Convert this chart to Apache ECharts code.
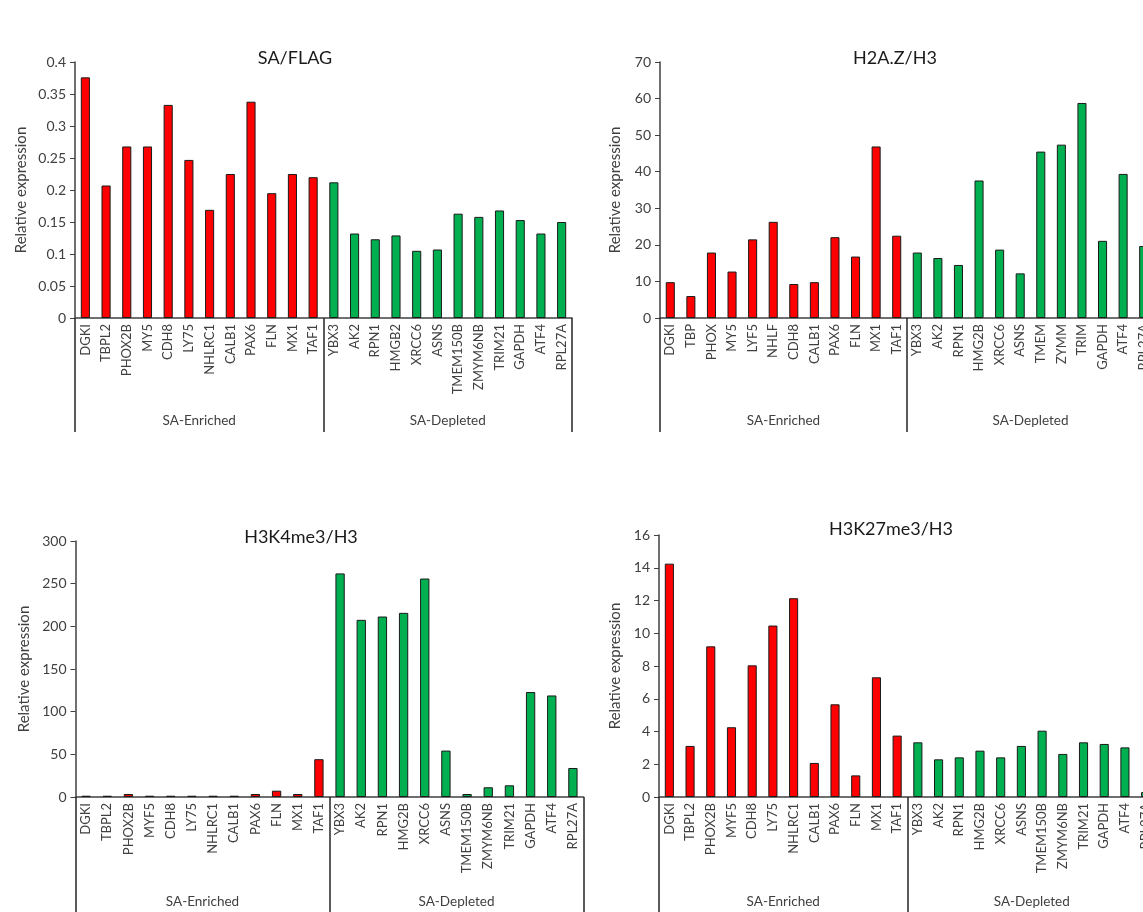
<!DOCTYPE html>
<html>
<head>
<meta charset="utf-8">
<script src="https://cdn.jsdelivr.net/npm/echarts@6/dist/echarts.min.js"></script>
<style>
html,body{margin:0;padding:0;overflow:hidden;background:#fff;width:1143px;height:912px;}
#c{width:1200px;height:912px;}
</style>
</head>
<body>
<div id="c"></div>
<script>
// ---------- data ----------
const groupNames = ['SA-Enriched', 'SA-Depleted'];
const enrichedCount = 12;

const titleA = 'SA/FLAG';
const catsA = ['DGKI','TBPL2','PHOX2B','MY5','CDH8','LY75','NHLRC1','CALB1','PAX6','FLN','MX1','TAF1',
               'YBX3','AK2','RPN1','HMGB2','XRCC6','ASNS','TMEM150B','ZMYM6NB','TRIM21','GAPDH','ATF4','RPL27A'];
const valsA = [0.376,0.207,0.268,0.268,0.333,0.247,0.169,0.225,0.338,0.195,0.225,0.220,
               0.212,0.132,0.123,0.129,0.105,0.107,0.163,0.158,0.168,0.153,0.132,0.150];

const titleB = 'H2A.Z/H3';
const catsB = ['DGKI','TBP','PHOX','MY5','LYF5','NHLF','CDH8','CALB1','PAX6','FLN','MX1','TAF1',
               'YBX3','AK2','RPN1','HMG2B','XRCC6','ASNS','TMEM','ZYMM','TRIM','GAPDH','ATF4','RPL27A'];
const valsB = [9.8,6.0,17.9,12.7,21.5,26.3,9.3,9.8,22.1,16.8,46.9,22.5,
               17.9,16.4,14.5,37.6,18.7,12.2,45.5,47.4,58.8,21.1,39.4,19.7];

const titleC = 'H3K4me3/H3';
const catsC = ['DGKI','TBPL2','PHOX2B','MYF5','CDH8','LY75','NHLRC1','CALB1','PAX6','FLN','MX1','TAF1',
               'YBX3','AK2','RPN1','HMG2B','XRCC6','ASNS','TMEM150B','ZMYM6NB','TRIM21','GAPDH','ATF4','RPL27A'];
const valsC = [1.5,1.5,3.5,1.5,1.5,1.5,1.5,1.5,3.5,7.4,3.5,44.3,
               262,207.6,211.5,215.8,256,54.4,3.5,11.4,13.7,123,119,34];

const titleD = 'H3K27me3/H3';
const catsD = ['DGKI','TBPL2','PHOX2B','MYF5','CDH8','LY75','NHLRC1','CALB1','PAX6','FLN','MX1','TAF1',
               'YBX3','AK2','RPN1','HMG2B','XRCC6','ASNS','TMEM150B','ZMYM6NB','TRIM21','GAPDH','ATF4','RPL27A'];
const valsD = [14.25,3.12,9.2,4.26,8.04,10.47,12.14,2.08,5.66,1.32,7.31,3.75,
               3.34,2.3,2.42,2.83,2.42,3.12,4.05,2.63,3.34,3.24,3.03,0.3];

const yAxisName = 'Relative expression';

// ---------- layout / style ----------
const FONT = 'Lato, "Open Sans", sans-serif';
const RED = '#ff0000', GREEN = '#00b050';
const panels = [
  {title: titleA, cats: catsA, vals: valsA, max: 0.4, interval: 0.05,
   grid: {left: 75, top: 62, width: 497, height: 256}, titlePos: [290, 44], nameGap: 46, groupOffset: 114, groupMargin: 4},
  {title: titleB, cats: catsB, vals: valsB, max: 70, interval: 10,
   grid: {left: 660, top: 62, width: 494, height: 256}, titlePos: [890, 44], nameGap: 37, groupOffset: 114, groupMargin: 4},
  {title: titleC, cats: catsC, vals: valsC, max: 300, interval: 50,
   grid: {left: 75.5, top: 541, width: 508, height: 256}, titlePos: [296, 523], nameGap: 44, groupOffset: 125, groupMargin: 13},
  {title: titleD, cats: catsD, vals: valsD, max: 16, interval: 2,
   grid: {left: 659, top: 535, width: 497, height: 262}, titlePos: [886, 515], nameGap: 36, groupOffset: 125, groupMargin: 13}
];

const option = {
  animation: false,
  backgroundColor: '#ffffff',
  title: [], grid: [], xAxis: [], yAxis: [], series: []
};

panels.forEach((p, i) => {
  option.title.push({
    text: p.title, left: p.titlePos[0], top: p.titlePos[1], textAlign: 'center',
    textStyle: {fontFamily: FONT, fontSize: 18, fontWeight: 'normal', color: '#1a1a1a'}
  });
  option.grid.push(Object.assign({containLabel: false}, p.grid));
  // gene axis
  option.xAxis.push({
    type: 'category', gridIndex: i, data: p.cats,
    axisLine: {lineStyle: {color: '#404040', width: 1.5}},
    axisTick: {show: false},
    axisLabel: {rotate: 90, interval: 0, margin: 6, fontFamily: FONT, fontSize: 13, color: '#404040'}
  });
  // group axis (SA-Enriched / SA-Depleted)
  option.xAxis.push({
    type: 'category', gridIndex: i, position: 'bottom', offset: p.groupOffset,
    data: groupNames,
    axisLine: {show: false},
    axisTick: {show: true, inside: true, length: p.groupOffset, lineStyle: {color: '#262626', width: 1.5}},
    axisLabel: {inside: true, margin: p.groupMargin, fontFamily: FONT, fontSize: 13.5, color: '#404040'}
  });
  option.yAxis.push({
    type: 'value', gridIndex: i, min: 0, max: p.max, interval: p.interval,
    name: yAxisName, nameLocation: 'middle', nameGap: p.nameGap, nameRotate: 90,
    nameTextStyle: {fontFamily: FONT, fontSize: 15, color: '#404040'},
    axisLine: {show: true, lineStyle: {color: '#404040', width: 1.5}},
    axisTick: {show: true, length: 5, lineStyle: {color: '#404040'}},
    splitLine: {show: false},
    axisLabel: {fontFamily: FONT, fontSize: 14, color: '#404040', margin: 9}
  });
  option.series.push({
    type: 'bar', xAxisIndex: i * 2, yAxisIndex: i, barWidth: '44%',
    data: p.vals.map((v, k) => ({
      value: v,
      itemStyle: {color: k < enrichedCount ? RED : GREEN, borderColor: '#1a1a1a', borderWidth: 1}
    }))
  });
});

const chart = echarts.init(document.getElementById('c'), null, {renderer: 'canvas'});
chart.setOption(option);
</script>
</body>
</html>
